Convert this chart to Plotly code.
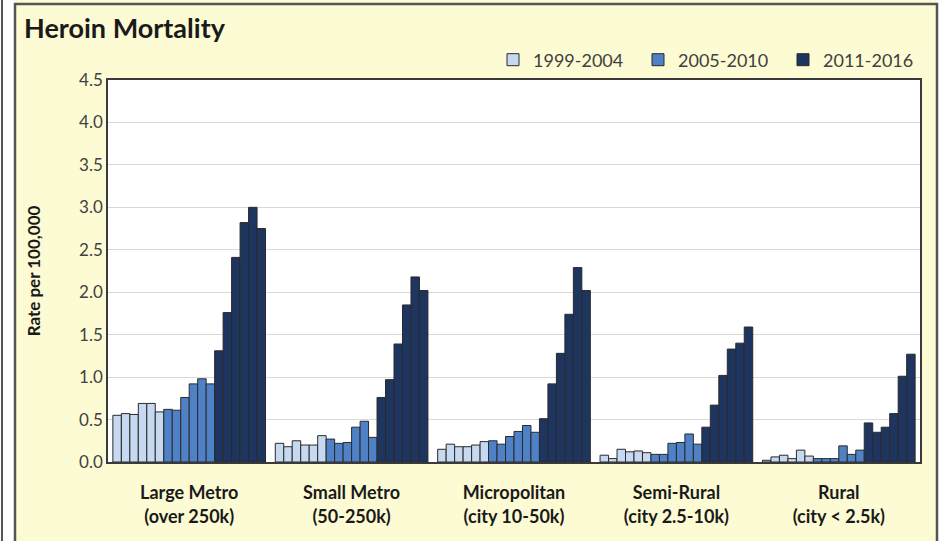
import plotly.graph_objects as go

categories = ["Large Metro<br>(over 250k)", "Small Metro<br>(50-250k)",
              "Micropolitan<br>(city 10-50k)", "Semi-Rural<br>(city 2.5-10k)",
              "Rural<br>(city &lt; 2.5k)"]
years = list(range(1999, 2017))
periods = ["1999-2004", "2005-2010", "2011-2016"]

large_metro = [0.55, 0.57, 0.56, 0.69, 0.69, 0.59, 0.62, 0.61, 0.76, 0.92, 0.98, 0.92,
               1.31, 1.76, 2.41, 2.82, 3.00, 2.75]
small_metro = [0.22, 0.18, 0.25, 0.20, 0.20, 0.31, 0.27, 0.22, 0.23, 0.41, 0.48, 0.29,
               0.76, 0.97, 1.39, 1.85, 2.18, 2.02]
micropolitan = [0.15, 0.21, 0.18, 0.18, 0.20, 0.24, 0.25, 0.21, 0.30, 0.36, 0.43, 0.35,
                0.51, 0.92, 1.28, 1.74, 2.29, 2.02]
semi_rural = [0.08, 0.04, 0.15, 0.12, 0.13, 0.11, 0.09, 0.09, 0.22, 0.23, 0.33, 0.21,
              0.41, 0.67, 1.02, 1.33, 1.40, 1.59]
rural = [0.02, 0.06, 0.08, 0.04, 0.14, 0.07, 0.04, 0.04, 0.04, 0.19, 0.09, 0.14,
         0.46, 0.35, 0.41, 0.57, 1.01, 1.27]

groups = [large_metro, small_metro, micropolitan, semi_rural, rural]
period_colors = ["#C6D9F0", "#4F81C7", "#1E3560"]

W, H = 940, 541
L, R, T, B = 108, 20, 80, 79
PW, PH = W - L - R, H - T - B


def px_x(p):
    return (p - L) / PW


def px_y(p):
    return (H - B - p) / PH


fig = go.Figure()
for k, yr in enumerate(years):
    pi = k // 6
    fig.add_trace(go.Bar(
        x=categories,
        y=[g[k] for g in groups],
        name=periods[pi],
        legendgroup=periods[pi],
        showlegend=(k % 6 == 0),
        marker=dict(color=period_colors[pi], line=dict(color="#2a2a2a", width=1)),
        hovertemplate=str(yr) + ": %{y}<extra></extra>",
    ))

font_main = "Lato, 'Open Sans', sans-serif"

fig.update_layout(
    width=W, height=H,
    margin=dict(l=L, r=R, t=T, b=B, autoexpand=False),
    paper_bgcolor="#FDFBD3",
    plot_bgcolor="#FFFFFF",
    barmode="group",
    bargap=0.06,
    bargroupgap=0,
    font=dict(family=font_main, color="#404040"),
    title=dict(text="<b>Heroin Mortality</b>", xref="container", yref="container",
               x=24 / W, y=1 - 29 / H, xanchor="left", yanchor="middle",
               font=dict(size=27, color="#1a1a1a", family=font_main)),
    legend=dict(orientation="h", x=px_x(493), y=px_y(60), xanchor="left", yanchor="middle",
                font=dict(size=18, color="#404040"), bgcolor="rgba(0,0,0,0)",
                entrywidth=100, entrywidthmode="pixels", itemwidth=30,
                traceorder="normal"),
    xaxis=dict(showline=True, linecolor="#3a3a3a", linewidth=1.5, mirror=True,
               ticks="", tickfont=dict(size=18, color="#1a1a1a", weight="bold"),
               ticklabelstandoff=14, showgrid=False),
    yaxis=dict(range=[0, 4.5], dtick=0.5, tickformat=".1f",
               showline=True, linecolor="#3a3a3a", linewidth=1.5, mirror=True,
               gridcolor="#D9D9D9", gridwidth=1, ticks="",
               tickfont=dict(size=17, color="#404040"),
               title=dict(text="<b>Rate per 100,000</b>", font=dict(size=17, color="#1a1a1a"),
                          standoff=34)),
    shapes=[
        dict(type="rect", xref="paper", yref="paper", x0=px_x(-5), x1=px_x(14),
             y0=px_y(-5), y1=px_y(H + 5), fillcolor="#FFFFFF", line=dict(width=0),
             layer="below"),
        dict(type="line", xref="paper", yref="paper", x0=px_x(2), x1=px_x(2),
             y0=px_y(-5), y1=px_y(H + 5), line=dict(color="#555555", width=2)),
        dict(type="rect", xref="paper", yref="paper", x0=px_x(937), x1=px_x(W + 5),
             y0=px_y(-5), y1=px_y(H + 5), fillcolor="#FFFFFF", line=dict(width=0),
             layer="below"),
        dict(type="rect", xref="paper", yref="paper", x0=px_x(15), x1=px_x(937),
             y0=px_y(H + 10), y1=px_y(4), line=dict(color="#555555", width=2.5),
             fillcolor="rgba(0,0,0,0)"),
    ],
)

fig.write_html("out.html")
